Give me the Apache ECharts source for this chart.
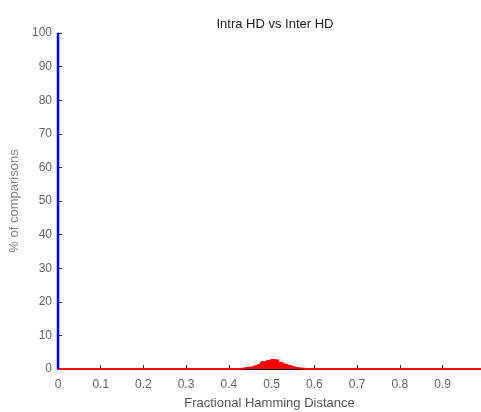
<!DOCTYPE html>
<html>
<head>
<meta charset="utf-8">
<script src="https://cdn.jsdelivr.net/npm/echarts@6/dist/echarts.min.js"></script>
<style>
  html, body { margin: 0; padding: 0; background: #fff; }
  #chart { width: 481px; height: 412px; }
</style>
</head>
<body>
<div id="chart"></div>
<script>
  // inter HD histogram (percent of comparisons per bin)
  var interBins = [0, 0.42, 0.43, 0.44, 0.45, 0.46, 0.47, 0.48, 0.49, 0.50, 0.51, 0.52, 0.53, 0.54, 0.55, 0.56, 0.57, 0.58, 0.99];
  var interValues = [0, 0, 0.1, 0.3, 0.45, 0.8, 1.3, 2.0, 2.4, 2.7, 2.6, 1.8, 1.3, 0.9, 0.5, 0.2, 0.05, 0, 0];
  // intra HD: all comparisons at distance 0
  var intraBins = [0, 0];
  var intraValues = [0, 100];
  var xTicks = [0, 0.1, 0.2, 0.3, 0.4, 0.5, 0.6, 0.7, 0.8, 0.9];

  function pairs(xs, ys) {
    var out = [];
    for (var i = 0; i < xs.length; i++) out.push([xs[i], ys[i]]);
    return out;
  }

  var chart = echarts.init(document.getElementById('chart'));
  var font = 'Liberation Sans, Arial, sans-serif';
  chart.setOption({
    animation: false,
    title: {
      text: 'Intra HD vs Inter HD',
      left: 270, top: 13, textAlign: 'center',
      textStyle: { fontFamily: font, fontSize: 13, fontWeight: 'normal', color: '#222' }
    },
    grid: { left: 58, right: 0, top: 33, bottom: 43, outerBoundsMode: 'none', containLabel: false },
    xAxis: {
      type: 'value', min: 0, max: 0.99, interval: 0.1,
      name: 'Fractional Hamming Distance', nameLocation: 'middle', nameGap: 28,
      nameTextStyle: { fontFamily: font, fontSize: 13, color: '#555' },
      axisLine: { lineStyle: { color: '#000' } },
      axisTick: { inside: true, length: 4, lineStyle: { color: '#333' } },
      axisLabel: {
        fontFamily: font, fontSize: 12, color: '#666', margin: 10,
        showMaxLabel: false,
        formatter: function (v) {
          for (var i = 0; i < xTicks.length; i++) {
            if (Math.abs(xTicks[i] - v) < 1e-6) return String(xTicks[i]);
          }
          return '';
        }
      },
      splitLine: { show: false }
    },
    yAxis: {
      type: 'value', min: 0, max: 100, interval: 10,
      name: '% of comparisons', nameLocation: 'middle', nameGap: 31,
      nameTextStyle: { fontFamily: font, fontSize: 13, color: '#888' },
      axisLine: { show: true, lineStyle: { color: '#000' } },
      axisTick: { show: true, inside: true, length: 4, lineStyle: { color: '#333' } },
      axisLabel: { fontFamily: font, fontSize: 12, color: '#666', margin: 6 },
      splitLine: { show: false }
    },
    series: [
      {
        name: 'Inter HD', type: 'line', step: 'middle', symbol: 'none',
        data: pairs(interBins, interValues),
        lineStyle: { color: '#ff0000', width: 2 },
        areaStyle: { color: '#ff0000', opacity: 1 },
        z: 3
      },
      {
        name: 'Intra HD', type: 'line', symbol: 'none',
        data: pairs(intraBins, intraValues),
        lineStyle: { color: '#0000ff', width: 2.5 },
        z: 4
      }
    ]
  });
</script>
</body>
</html>
